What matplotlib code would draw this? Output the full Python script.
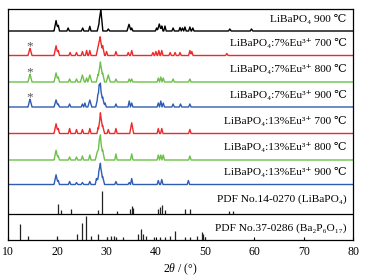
import matplotlib
matplotlib.use("Agg")
import matplotlib.pyplot as plt
import numpy as np

plt.rcParams['font.family'] = ['Liberation Serif', 'DejaVu Serif']
plt.rcParams['mathtext.fontset'] = 'custom'
plt.rcParams['mathtext.rm'] = 'Liberation Serif'
plt.rcParams['mathtext.it'] = 'Liberation Serif:italic'

# measured patterns: peak positions (2theta) and peak heights (arb. units)
lbp_900_pos = [19.74, 20.2, 22.2, 25.15, 26.6, 28.5, 28.85, 30.35, 34.55, 35.1, 40.15, 40.7, 41.2, 41.85, 43.5, 44.9, 45.4, 45.9, 46.9, 47.5, 55.0, 59.4]
lbp_900_h = [10.7, 5.7, 3, 3, 4.7, 8, 20.5, 2, 6.7, 3, 3, 7, 5, 5, 3, 3.5, 3, 4, 4, 3, 2, 2]

eu7_700_pos = [14.46, 19.74, 20.2, 22.6, 23.9, 25.1, 25.95, 26.6, 28.3, 28.7, 29.2, 30.0, 31.9, 34.4, 35.1, 39.4, 40.0, 40.6, 41.2, 42.9, 43.9, 44.9, 46.9, 47.3, 54.4]
eu7_700_h = [7.3, 10, 5, 3, 3, 4, 5, 5, 9, 18.7, 10, 4, 4, 3, 5, 3, 4, 5, 5, 3, 3, 3, 5, 4, 2]

eu7_800_pos = [14.46, 19.74, 20.2, 22.5, 23.9, 25.1, 25.95, 26.6, 28.3, 28.75, 29.2, 30.35, 31.9, 34.6, 35.1, 40.5, 41.0, 41.5, 43.5, 46.9]
eu7_800_h = [8, 9.3, 5, 3, 3, 7, 4, 7, 8, 20, 9, 7, 3, 3, 3, 4, 5, 4, 3, 3]

eu7_900_pos = [14.46, 19.74, 20.2, 22.5, 25.1, 25.6, 26.6, 28.2, 28.5, 28.75, 29.2, 29.7, 31.9, 34.6, 35.1, 40.5, 41.0, 41.5, 43.5, 45.0, 46.9]
eu7_900_h = [8, 7.3, 3, 3, 3, 4, 7, 9, 13, 19, 10, 4, 3, 6, 4, 4, 6, 4, 3, 3, 3]

eu13_700_pos = [19.74, 20.2, 22.5, 23.9, 25.1, 26.6, 28.3, 28.75, 29.2, 30.35, 31.9, 35.1, 40.5, 41.2, 46.9]
eu13_700_h = [10, 5, 5, 4, 4, 5, 6, 20.7, 8, 4, 5, 10.7, 5, 5, 4]

eu13_800_pos = [19.74, 20.2, 22.5, 23.9, 25.1, 26.6, 28.1, 28.5, 28.75, 29.2, 31.9, 35.1, 40.5, 41.0, 41.5, 46.9]
eu13_800_h = [10, 4, 3, 3, 4, 5, 8, 12, 20.7, 10, 6, 6, 5, 5, 5, 4]

eu13_900_pos = [19.74, 20.2, 22.5, 23.9, 25.1, 26.6, 27.95, 28.4, 28.75, 29.2, 31.9, 34.6, 35.1, 40.5, 41.2, 46.6]
eu13_900_h = [10, 4, 3, 2, 2, 3, 6, 10, 20, 8, 3, 2, 6, 4, 5, 4]

# reference cards (stick patterns)
pdf14_pos = [20.2, 20.75, 22.7, 28.3, 29.0, 32.05, 34.75, 35.1, 35.4, 40.5, 40.85, 41.2, 41.85, 45.9, 46.9, 54.9, 55.6]
pdf14_h = [10, 4, 5, 4, 23, 3, 5, 8, 6, 5, 7, 9, 4, 5, 5, 3, 3]

pdf37_pos = [12.43, 14.1, 19.9, 23.9, 25.1, 25.8, 26.8, 28.25, 30.0, 30.9, 31.55, 31.9, 33.4, 36.4, 36.9, 37.3, 38.0, 39.7,
             40.8, 41.85, 42.85, 43.9, 45.9, 46.9, 48.3, 49.3, 49.6, 50.0]
pdf37_h = [15.7, 4, 4, 6, 16.7, 24, 4, 6, 3.5, 4, 4, 3, 3, 6, 11, 6, 4, 3, 3, 3, 4, 9, 3, 3, 4, 8, 6, 3]

labels = [
    'LiBaPO₄ 900 ℃',
    'LiBaPO₄:7%Eu³⁺ 700 ℃',
    'LiBaPO₄:7%Eu³⁺ 800 ℃',
    'LiBaPO₄:7%Eu³⁺ 900 ℃',
    'LiBaPO₄:13%Eu³⁺ 700 ℃',
    'LiBaPO₄:13%Eu³⁺ 800 ℃',
    'LiBaPO₄:13%Eu³⁺ 900 ℃',
]
pdf14_label = 'PDF No.14-0270 (LiBaPO₄)'
pdf37_label = 'PDF No.37-0286 (Ba₂P₆O₁₇)'

patterns = [(lbp_900_pos, lbp_900_h), (eu7_700_pos, eu7_700_h), (eu7_800_pos, eu7_800_h),
            (eu7_900_pos, eu7_900_h), (eu13_700_pos, eu13_700_h), (eu13_800_pos, eu13_800_h),
            (eu13_900_pos, eu13_900_h)]
colors = ['black', '#ee2a2a', '#6cc04a', '#2f5db3', '#ee2a2a', '#6cc04a', '#2f5db3']
offsets = [209, 184.5, 158, 133, 106.5, 80, 55.5]
pdf14_base = 26

fig = plt.figure(figsize=(3.7, 2.78), dpi=100)
ax = fig.add_axes([8 / 370, 38 / 278, 345 / 370, 231 / 278])

tt = np.linspace(10, 80, 2801)
for (pos, h), c, off, lab in zip(patterns, colors, offsets, labels):
    y = np.zeros_like(tt)
    for p, hh in zip(pos, h):
        w = 0.4 if hh > 6 else 0.25
        y += hh * np.clip(1 - np.abs(tt - p) / w, 0, None)
    ax.plot(tt, y + off, color=c, lw=1.0)
    ax.text(78.7, off + 12.5, lab, ha='right', va='center', fontsize=8.2)

# impurity marks
for off in offsets[1:4]:
    ax.text(14.46, off + 9.5, '*', ha='center', va='center', fontsize=9.5, color='#555555')

ax.vlines(pdf14_pos, pdf14_base, pdf14_base + np.array(pdf14_h), color='#222222', lw=0.9)
ax.vlines(pdf37_pos, 0, pdf37_h, color='#222222', lw=0.9)
ax.axhline(pdf14_base, color='black', lw=0.9)
ax.text(78.7, 41, pdf14_label, ha='right', va='center', fontsize=8.2)
ax.text(78.7, 12, pdf37_label, ha='right', va='center', fontsize=8.2)

ax.set_xlim(10, 80)
ax.set_ylim(0, 231)
ax.set_yticks([])
ax.set_xticks(np.arange(10, 81, 10))
ax.tick_params(axis='x', direction='in', length=2, width=0.8, labelsize=8.5, pad=4)
for s in ax.spines.values():
    s.set_linewidth(0.9)
ax.set_xlabel(r'2$\mathit{\theta}$ / (°)', fontsize=8.5, labelpad=3)

plt.savefig('out.png', dpi=100)
